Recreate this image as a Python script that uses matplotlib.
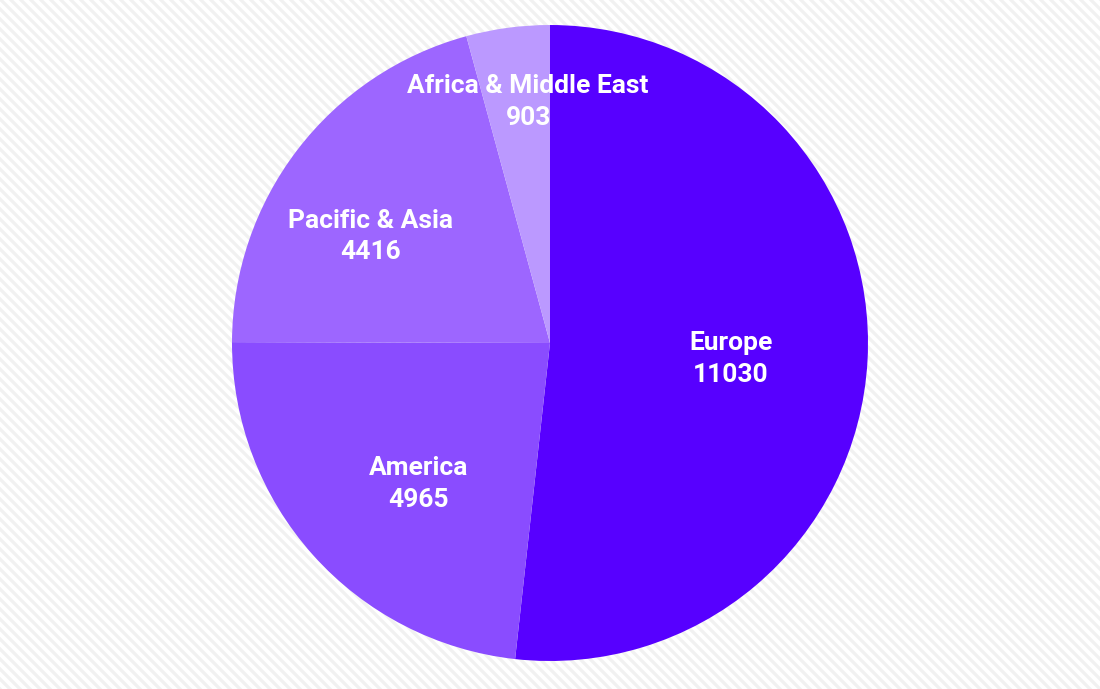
import numpy as np
import matplotlib

matplotlib.use("Agg")
import matplotlib.pyplot as plt

regions = ["Europe", "America", "Pacific & Asia", "Africa & Middle East"]
values = [11030, 4965, 4416, 903]
colors = ["#5700ff", "#8a4cff", "#9d66ff", "#bb99ff"]

# label placement (radius as fraction, angle nudge in degrees)
label_r = [0.57, 0.60, 0.66, 0.77]
label_nudge = [-1.0, 4.5, 6, -2.5]

W, H = 1100, 689
fig = plt.figure(figsize=(W / 100, H / 100), dpi=100)

# striped background
bg = fig.add_axes([0, 0, 1, 1])
bg.set_xlim(0, W)
bg.set_ylim(0, H)
bg.axis("off")
for c in range(0, W + H + 20, 10):
    bg.plot([c - H - 20, c + 20], [H + 20, -20], color="#f1f1f1", lw=2.3,
            solid_capstyle="butt")

cx, cy, R = 550, 689 - 343, 318
ax = fig.add_axes([(cx - R) / W, (cy - R) / H, 2 * R / W, 2 * R / H])

wedges, _ = ax.pie(values, colors=colors, startangle=90, counterclock=False,
                   radius=1, wedgeprops=dict(linewidth=0))
ax.set_xlim(-1, 1)
ax.set_ylim(-1, 1)
ax.set_aspect("equal")
ax.axis("off")

for w, name, v, r, dn in zip(wedges, regions, values, label_r, label_nudge):
    mid = np.deg2rad((w.theta1 + w.theta2) / 2 + dn)
    ax.annotate(f"{name}\n{v}", (r * np.cos(mid), r * np.sin(mid)),
                xytext=(0, -3), textcoords="offset pixels",
                ha="center", va="center", color="white", fontsize=19,
                fontweight="bold", family="Roboto", linespacing=1.4)

fig.savefig("out.png", dpi=100)
